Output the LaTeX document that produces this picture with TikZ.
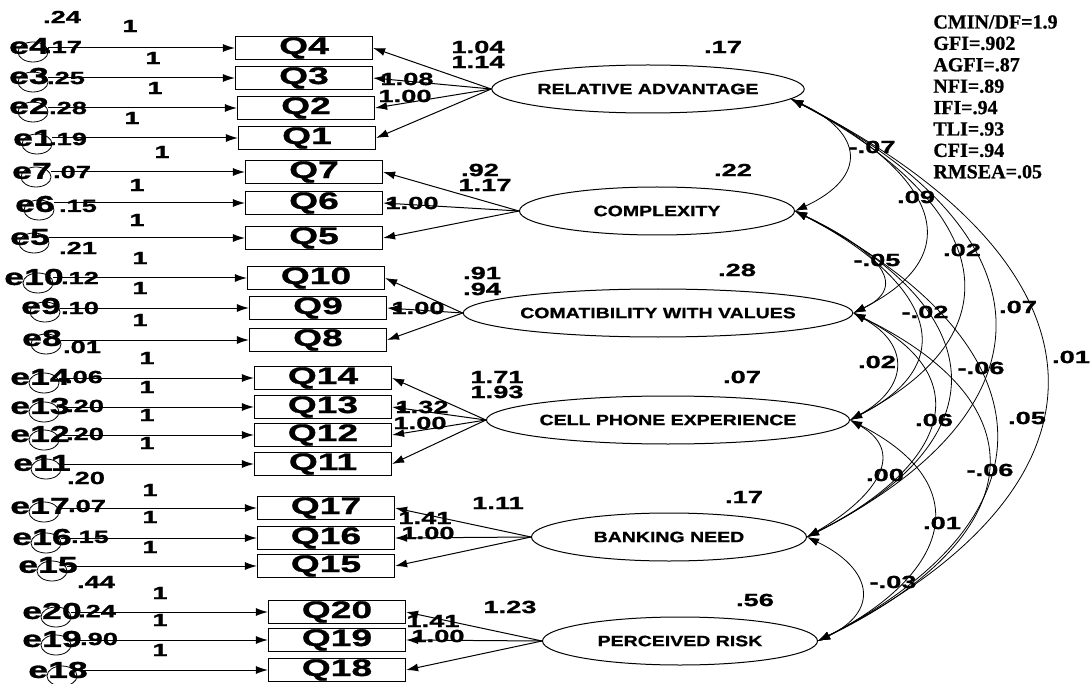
\documentclass[tikz,border=0pt]{standalone}
\usepackage{fontspec}
\setmainfont{Liberation Sans}
\newfontfamily\widesans[FakeStretch=1.55,FakeBold=1.2]{Liberation Sans}
\newfontfamily\midsans[FakeStretch=1.3,FakeBold=1]{Liberation Sans}
\newfontfamily\fitserif[FakeBold=0.8]{Liberation Serif}
\usetikzlibrary{arrows.meta,shapes.geometric}

\begin{document}
\begin{tikzpicture}[x=0.5pt, y=-0.5pt,
    obs/.style={rectangle, draw, line width=0.6pt, minimum width=68.5pt,
                minimum height=11.5pt, inner sep=0pt,
                font=\widesans\bfseries\fontsize{12}{12}\selectfont},
    lat/.style={ellipse, draw, line width=0.5pt, minimum width=137.5pt,
                minimum height=24pt, inner sep=0pt,
                font=\midsans\bfseries\fontsize{7.5}{8}\selectfont},
    err/.style={ellipse, draw, line width=0.4pt, minimum width=15pt,
                minimum height=10pt, inner sep=0pt},
    elab/.style={inner sep=0pt, font=\widesans\bfseries\fontsize{11.5}{12}\selectfont},
    num/.style={inner sep=0pt, font=\widesans\bfseries\fontsize{8.8}{9}\selectfont},
    fitstat/.style={inner sep=0pt, anchor=base west,
                    font=\fitserif\bfseries\fontsize{10}{10}\selectfont},
    arr/.style={-{Latex[length=6pt,width=4pt]}, line width=0.5pt},
    cov/.style={{Latex[length=6pt,width=4pt]}-{Latex[length=6pt,width=4pt]}, line width=0.4pt},
]
\useasboundingbox (0,0) rectangle (1092,684);

% latent factors
\node[lat] (ra) at (648,89) {RELATIVE ADVANTAGE};
\node[lat] (cx) at (657,211) {COMPLEXITY};
\node[lat] (cv) at (658,313) {COMATIBILITY WITH VALUES};
\node[lat] (ce) at (668,420) {CELL PHONE EXPERIENCE};
\node[lat] (bn) at (669,537) {BANKING NEED};
\node[lat] (pr) at (680,641) {PERCEIVED RISK};

% items with their error terms
\foreach \q/\x/\y/\ex/\ey in {4/304/48/29/46, 3/304/78/29/76, 2/306/108/29/106,
    1/307/138/33/138, 7/314/172/32/171, 6/314/203/35/204, 5/314/238/30/237,
    10/316/278/34/277, 9/318/308/41/306, 8/318/340/42/338, 14/323/378/40/377,
    13/323/407/40/406, 12/323/435/40/434, 11/323/464/42/463, 17/326/508/40/506,
    16/326/538/42/537, 15/326/566/48/565, 20/337/612/52/611, 19/337/640/52/639,
    18/337/670/58/670}{
  \node[obs] (q\q) at (\x,\y) {Q\q};
  \node[err] (e\q) at (\ex+4,\ey+6) {};
  \node[elab] (el\q) at (\ex,\ey) {e\q};
  \draw[arr] (e\q.east |- q\q.west) -- (q\q.west);
}

% error variances and fixed paths
\foreach \v/\x/\y [count=\i] in {.24/62/17, .17/63/47, .25/66/78, .28/68/108,
    .19/68/139, .07/72/172, .15/78/206, .21/78/248, .12/80/278, .10/80/308,
    .01/82/347, .06/84/377, .20/85/406, .20/85/434, .20/86/478, .07/87/506,
    .15/90/537, .44/96/582, .24/97/611, .90/99/639}
  \node[num] (var\i) at (\x,\y) {\v};
\foreach \x/\y [count=\i] in {130/26, 153/58, 155/88, 132/118, 162/152, 137/185,
    137/220, 140/258, 140/288, 140/320, 147/358, 147/387, 147/415, 147/443,
    150/490, 150/517, 150/547, 160/593, 160/620, 160/650}
  \node[num] (one\i) at (\x,\y) {1};

% loadings
\foreach \f/\q in {ra/4, ra/3, ra/2, ra/1, cx/7, cx/6, cx/5, cv/10, cv/9, cv/8,
    ce/14, ce/13, ce/12, ce/11, bn/17, bn/16, bn/15, pr/20, pr/19, pr/18}
  \draw[arr] (\f.west) -- (q\q.east);

\node[num] (l4) at (478,47) {1.04};
\node[num] (l3) at (478,62) {1.14};
\node[num] (l2) at (407,79) {1.08};
\node[num] (l1) at (405,96) {1.00};
\node[num] (l7) at (480,170) {.92};
\node[num] (l6) at (485,185) {1.17};
\node[num] (l5) at (412,203) {1.00};
\node[num] (l10) at (482,273) {.91};
\node[num] (l9) at (482,289) {.94};
\node[num] (l8) at (418,308) {1.00};
\node[num] (l14) at (497,377) {1.71};
\node[num] (l13) at (497,392) {1.93};
\node[num] (l12) at (422,407) {1.32};
\node[num] (l11) at (420,423) {1.00};
\node[num] (l17) at (498,503) {1.11};
\node[num] (l16) at (425,518) {1.41};
\node[num] (l15) at (428,533) {1.00};
\node[num] (l20) at (510,607) {1.23};
\node[num] (l19) at (433,621) {1.41};
\node[num] (l18) at (438,636) {1.00};

% factor variances
\node[num] (vra) at (723,47) {.17};
\node[num] (vcx) at (733,170) {.22};
\node[num] (vcv) at (737,270) {.28};
\node[num] (vce) at (742,377) {.07};
\node[num] (vbn) at (744,497) {.17};
\node[num] (vpr) at (755,600) {.56};

% covariances
\draw[cov] (ra.-4) .. controls +(73,34) and +(73,-34) .. (cx.east);
\draw[cov] (ra.-4) .. controls +(129,65) and +(129,-65) .. (cv.east);
\draw[cov] (ra.-4) .. controls +(184,97) and +(184,-97) .. (ce.east);
\draw[cov] (ra.-4) .. controls +(259,132) and +(259,-132) .. (bn.east);
\draw[cov] (ra.-4) .. controls +(321,163) and +(321,-163) .. (pr.east);
\draw[cov] (cx.east) .. controls +(65,31) and +(65,-31) .. (cv.east);
\draw[cov] (cx.east) .. controls +(123,63) and +(123,-63) .. (ce.east);
\draw[cov] (cx.east) .. controls +(197,98) and +(197,-98) .. (bn.east);
\draw[cov] (cx.east) .. controls +(251,129) and +(251,-129) .. (pr.east);
\draw[cov] (cv.east) .. controls +(58,32) and +(58,-32) .. (ce.east);
\draw[cov] (cv.east) .. controls +(133,67) and +(133,-67) .. (bn.east);
\draw[cov] (cv.east) .. controls +(201,98) and +(201,-98) .. (pr.east);
\draw[cov] (ce.east) .. controls +(61,35) and +(61,-35) .. (bn.east);
\draw[cov] (ce.east) .. controls +(130,66) and +(130,-66) .. (pr.east);
\draw[cov] (bn.east) .. controls +(64,31) and +(64,-31) .. (pr.east);

\node[num] (c12) at (872,147) {-.07};
\node[num] (c13) at (916,197) {.09};
\node[num] (c14) at (962,250) {.02};
\node[num] (c15) at (1018,307) {.07};
\node[num] (c16) at (1071,357) {.01};
\node[num] (c23) at (877,260) {-.05};
\node[num] (c24) at (925,312) {-.02};
\node[num] (c25) at (981,368) {-.06};
\node[num] (c26) at (1027,418) {.05};
\node[num] (c34) at (877,362) {.02};
\node[num] (c35) at (934,420) {.06};
\node[num] (c36) at (990,470) {-.06};
\node[num] (c45) at (885,475) {.00};
\node[num] (c46) at (942,523) {.01};
\node[num] (c56) at (893,582) {-.03};

% fit indices
\node[fitstat] (cmin) at (933,28.5) {CMIN/DF=1.9};
\node[fitstat] (gfi) at (933,49.9) {GFI=.902};
\node[fitstat] (agfi) at (933,71.3) {AGFI=.87};
\node[fitstat] (nfi) at (933,92.7) {NFI=.89};
\node[fitstat] (ifi) at (933,114.1) {IFI=.94};
\node[fitstat] (tli) at (933,135.5) {TLI=.93};
\node[fitstat] (cfi) at (933,156.9) {CFI=.94};
\node[fitstat] (rmsea) at (933,178.3) {RMSEA=.05};
\end{tikzpicture}
\end{document}
